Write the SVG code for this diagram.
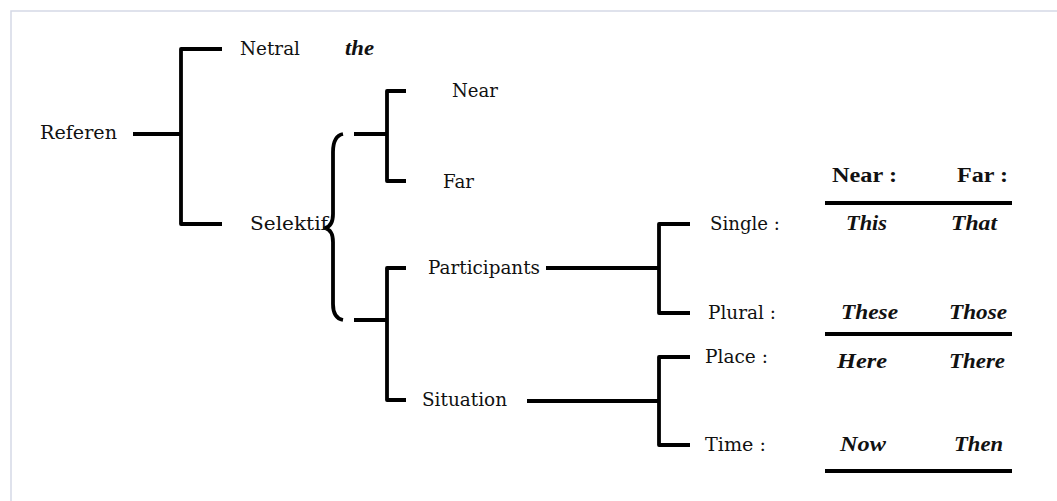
<svg xmlns="http://www.w3.org/2000/svg" width="1057" height="501" viewBox="0 0 1057 501">
<style>
.t{font-family:"DejaVu Serif","Liberation Serif",serif;font-size:19px;fill:#111}
.b{font-family:"Liberation Serif","DejaVu Serif",serif;font-size:20px;font-weight:bold;fill:#111}
.bi{font-family:"Liberation Serif","DejaVu Serif",serif;font-size:20px;font-weight:bold;font-style:italic;fill:#111}
.ln{fill:none;stroke:#000;stroke-width:3.8;stroke-linejoin:round}
.rule{stroke:#000;stroke-width:3.8}
</style>
<rect x="11" y="11" width="1060" height="500" fill="#fff" stroke="#d5d9e6" stroke-width="1.5"/>
<g id="connectors">
<path class="ln" d="M133 134H181M222 49H181V224H222"/>
<path class="ln" d="M343 134Q333 136 333 152V214Q333 226 325 228Q333 230 333 242V304Q333 318 343 320" stroke-width="3.2"/>
<path class="ln" d="M354 134H387M406 91H387V181H406"/>
<path class="ln" d="M354 320H387M406 268H387V400H406"/>
<path class="ln" d="M546 268H659M690 224H659V313H690"/>
<path class="ln" d="M527 401H659M690 357H659V445H690"/>
<line class="rule" x1="825" y1="203" x2="1012" y2="203"/>
<line class="rule" x1="825" y1="334" x2="1012" y2="334"/>
<line class="rule" x1="825" y1="471" x2="1012" y2="471"/>
</g>
<g id="referen"><text class="t" x="40" y="139" textLength="77" lengthAdjust="spacingAndGlyphs">Referen</text></g>
<g id="netral"><text class="t" x="240" y="55" textLength="60" lengthAdjust="spacingAndGlyphs">Netral</text></g>
<g id="the"><text class="bi" x="345" y="55" textLength="29" lengthAdjust="spacingAndGlyphs">the</text></g>
<g id="selektif"><text class="t" x="250" y="230" textLength="78" lengthAdjust="spacingAndGlyphs">Selektif</text></g>
<g id="near"><text class="t" x="452" y="97" textLength="46" lengthAdjust="spacingAndGlyphs">Near</text></g>
<g id="far"><text class="t" x="443" y="188" textLength="31" lengthAdjust="spacingAndGlyphs">Far</text></g>
<g id="participants"><text class="t" x="428" y="274" textLength="112" lengthAdjust="spacingAndGlyphs">Participants</text></g>
<g id="situation"><text class="t" x="422" y="406" textLength="85" lengthAdjust="spacingAndGlyphs">Situation</text></g>
<g id="single"><text class="t" x="710" y="230" textLength="70" lengthAdjust="spacingAndGlyphs">Single :</text></g>
<g id="plural"><text class="t" x="708" y="319" textLength="68" lengthAdjust="spacingAndGlyphs">Plural :</text></g>
<g id="place"><text class="t" x="705" y="363" textLength="63" lengthAdjust="spacingAndGlyphs">Place :</text></g>
<g id="time"><text class="t" x="705" y="451" textLength="61" lengthAdjust="spacingAndGlyphs">Time :</text></g>
<g id="table">
<text class="b" x="832" y="182" textLength="65" lengthAdjust="spacingAndGlyphs">Near :</text>
<text class="b" x="957" y="182" textLength="51" lengthAdjust="spacingAndGlyphs">Far :</text>
<text class="bi" x="846" y="230" textLength="41" lengthAdjust="spacingAndGlyphs">This</text>
<text class="bi" x="951" y="230" textLength="46" lengthAdjust="spacingAndGlyphs">That</text>
<text class="bi" x="841" y="319" textLength="57" lengthAdjust="spacingAndGlyphs">These</text>
<text class="bi" x="949" y="319" textLength="58" lengthAdjust="spacingAndGlyphs">Those</text>
<text class="bi" x="837" y="368" textLength="50" lengthAdjust="spacingAndGlyphs">Here</text>
<text class="bi" x="949" y="368" textLength="56" lengthAdjust="spacingAndGlyphs">There</text>
<text class="bi" x="840" y="451" textLength="46" lengthAdjust="spacingAndGlyphs">Now</text>
<text class="bi" x="954" y="451" textLength="49" lengthAdjust="spacingAndGlyphs">Then</text>
</g>
</svg>
